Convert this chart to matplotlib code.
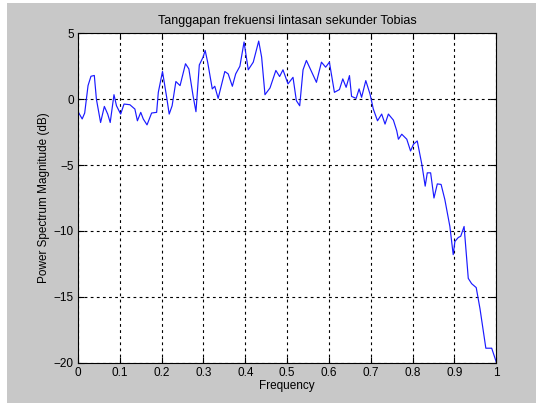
import numpy as np
import matplotlib
matplotlib.use("Agg")
import matplotlib.pyplot as plt
from matplotlib.patches import Rectangle

# frequency response
freq = [0.002, 0.010, 0.016, 0.024, 0.031, 0.039, 0.044, 0.054, 0.063, 0.071,
        0.077, 0.086, 0.092, 0.102, 0.110, 0.124, 0.136, 0.142, 0.150, 0.156,
        0.165, 0.176, 0.188, 0.192, 0.202, 0.212, 0.218, 0.225, 0.234, 0.244,
        0.257, 0.265, 0.275, 0.282, 0.290, 0.299, 0.304, 0.310, 0.321, 0.327,
        0.335, 0.351, 0.359, 0.369, 0.377, 0.387, 0.397, 0.407, 0.419, 0.432,
        0.439, 0.447, 0.459, 0.473, 0.482, 0.490, 0.502, 0.514, 0.522,
        0.530, 0.538, 0.546, 0.570, 0.582, 0.592, 0.601, 0.613, 0.625,
        0.633, 0.641, 0.649, 0.654, 0.665, 0.672, 0.678, 0.688,
        0.698, 0.706, 0.716, 0.726, 0.734, 0.742, 0.754, 0.762, 0.766, 0.774,
        0.786, 0.795, 0.802, 0.811, 0.822, 0.830, 0.835, 0.843, 0.851, 0.859,
        0.868, 0.877, 0.889, 0.897, 0.901, 0.909, 0.915, 0.923, 0.933, 0.941,
        0.952, 0.961, 0.975, 0.989, 1.000]
mag_db = [-1.05, -1.5, -1.05, 1.03, 1.74, 1.8, 0.0, -1.77, -0.55, -1.13,
          -1.77, 0.34, -0.5, -1.13, -0.37, -0.42, -0.75, -1.64, -1.0, -1.5,
          -1.95, -1.05, -1.0, 0.52, 2.1, 0.14, -1.13, -0.5, 1.34, 1.03,
          2.69, 2.3, 0.27, -0.95, 2.6, 3.19, 3.7, 2.8, 0.78, 0.98,
          0.06, 2.1, 1.92, 0.98, 1.92, 2.5, 4.34, 2.23, 2.81, 4.41,
          3.19, 0.34, 0.85, 2.18, 1.72, 2.23, 1.16, 1.66, -0.11,
          -0.5, 2.23, 2.94, 1.28, 2.81, 2.43, 2.81, 0.52, 0.73,
          1.54, 0.9, 1.79, 0.21, 0.06, 0.78, 0.14, 1.41,
          0.4, -0.75, -1.64, -1.13, -1.89, -1.13, -1.59, -2.4, -3.04, -2.66,
          -3.04, -3.93, -3.42, -3.17, -4.95, -6.6, -5.59, -5.59, -7.5, -6.43,
          -6.47, -7.62, -9.66, -11.8, -10.8, -10.5, -10.4, -9.66, -13.6, -14.0,
          -14.3, -15.9, -18.9, -18.9, -19.96]

xticks = np.arange(0, 1.01, 0.1)
xtick_labels = ["0", "0.1", "0.2", "0.3", "0.4", "0.5", "0.6", "0.7", "0.8", "0.9", "1"]
yticks = [-20, -15, -10, -5, 0, 5]

plt.rcParams['font.family'] = ['Liberation Sans', 'DejaVu Sans']

fig = plt.figure(figsize=(5.36, 4.03), dpi=100, facecolor='#c8c8c8')
# white strips at the left and top edges of the screenshot
fig.patches.append(Rectangle((0, 0), 7 / 536, 1, transform=fig.transFigure,
                             facecolor='white', edgecolor='none'))
fig.patches.append(Rectangle((0, 1 - 3 / 403), 1, 3 / 403, transform=fig.transFigure,
                             facecolor='white', edgecolor='none'))

ax = fig.add_axes([78 / 536, 1 - 362.7 / 403, (496.3 - 78) / 536, (362.7 - 33.3) / 403])
ax.set_facecolor('white')
ax.plot(freq, mag_db, color='#1a1aff', lw=0.85)

ax.set_xlim(0, 1)
ax.set_ylim(-20, 5)
ax.set_xticks(xticks)
ax.set_xticklabels(xtick_labels)
ax.set_yticks(yticks)
ax.tick_params(direction='in', length=4, width=0.8, labelsize=8.5, pad=3,
               top=True, right=True)
ax.grid(True, color='black', linestyle=(0, (2.5, 3)), linewidth=0.8)
for sp in ax.spines.values():
    sp.set_linewidth(0.8)

ax.set_title('Tanggapan frekuensi lintasan sekunder Tobias', fontsize=9, pad=7)
ax.set_xlabel('Frequency', fontsize=8.5, labelpad=1)
ax.set_ylabel('Power Spectrum Magnitude (dB)', fontsize=8.5, labelpad=3)

fig.savefig('out.png', dpi=100, facecolor=fig.get_facecolor())
